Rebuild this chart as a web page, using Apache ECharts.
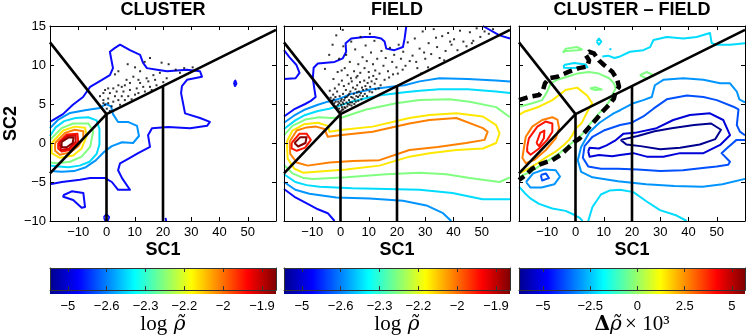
<!DOCTYPE html>
<html><head><meta charset="utf-8">
<script src="https://cdn.jsdelivr.net/npm/echarts@6/dist/echarts.min.js"></script>
<style>html,body{margin:0;padding:0;background:#fff}#c{width:747px;height:336px}</style>
</head><body><div id="c"></div>
<script>
// ---------- axes / labels ----------
const panelTitles = ['CLUSTER', 'FIELD', 'CLUSTER \u2013 FIELD'];
const xRange = [-20, 60];
const yRange = [-10, 15];
const xTicks = [-10, 0, 10, 20, 30, 40, 50];
const yTicks = [-10, -5, 0, 5, 10, 15];
const cbLogLabels = ['\u22125', '\u22122.6', '\u22122.3', '\u22122.2', '\u22122', '\u22121.9'];
const cbLogPos = [0, 1, 2, 3, 4, 5];
const cbLogRange = [-0.46, 5.36];
const cbDeltaTicks = [-5, -2.5, 0, 2.5, 5];
const cbDeltaRange = [-6.27, 5.69];

// ---------- selection wedge lines (same in every panel) ----------
const wedgeUpperLeft = [[-20, 12.9], [0, 3.7]];
const wedgeUpperRight = [[0, 3.7], [60, 14.5]];
const wedgeLowerLeft = [[0, 3.7], [-20, -3.9]];
const wedgeX0 = [[0, 3.7], [0, -10]];
const wedgeX20 = [[20, 7.3], [20, -10]];

// ---------- panel 1 : CLUSTER ----------
const p1Blue = [[-20,2.7],[-15.4,3.7],[-11.9,4.9],[-8.3,5.9],[-5.8,7.2],[-1.6,8.1],[1.2,8.7],[2.3,9.6],[1.6,10.9],[1.2,11.7],[3,12.2],[4.8,12.6],[8.3,11.9],[11.9,11.3],[12.9,10.3],[14.3,9.6],[17.9,9.4],[21.4,9.2],[28.5,9.4],[33.1,9.2],[33.8,8.5],[28.5,8.1],[26.7,7.3],[26.4,6.4],[27.8,3.8],[33.1,3.2],[36.6,2.7],[35.6,2.2],[29.6,1.9],[21.8,2.05],[16.1,1.9],[14.7,1.0],[15.4,-0.5],[11.2,-1.3],[8.3,-1.9],[4.8,-2.6],[4.1,-3.5],[5.5,-4.5],[8.3,-6.0],[4.1,-6.0],[1.9,-5.0],[-0.5,-4.5],[-5.8,-4.5],[-9.4,-4.7],[-15.8,-5.0],[-20,-5.3]];
const p1BlueLoop = [[-15.3,-6.7],[-12.3,-6.2],[-8.2,-6.4],[-7.6,-8.2],[-8.8,-8.3],[-11.8,-7.3],[-15.3,-6.9]];
const p1BlueSpotA = [[-1.0,-9.5],[0,-9.1],[1.0,-9.5],[0.5,-9.95],[-0.5,-9.95]];
const p1BlueSpotB = [[45.1,7.7],[45.6,8.0],[46.0,7.6],[45.5,7.3]];
const p1BlueSpotC = [[20.9,-9.6],[21.3,-9.4],[21.6,-9.8],[21.1,-9.95]];
const p1LightBlue = [[-20,1.9],[-17.2,2.95],[-12.9,3.85],[-7.6,4.2],[-2.3,4.5],[-0.2,5.0],[1.6,4.7],[2.3,3.7],[4.1,2.7],[7.6,2.7],[10.8,2.2],[11.5,0.9],[9.4,0],[5.5,0.1],[1.9,-0.4],[-0.9,-1.15],[-3.7,-2.2],[-7.3,-3.1],[-11.5,-3.6],[-15.8,-3.7],[-20,-3.6]];
const p1Cyan = [[-20,0.9],[-18,2.0],[-15,2.8],[-11,3.2],[-6.5,3.3],[-3.5,2.9],[-2.5,1.8],[-2.5,-0.2],[-3.5,-1.4],[-6,-2.4],[-9.5,-2.9],[-13.5,-3.1],[-17,-3.0],[-20,-2.9]];
const p1Green = [[-20,0.4],[-15.9,1.9],[-11.8,2.5],[-6.4,2.5],[-4.7,1.5],[-5.8,-0.5],[-8.8,-1.75],[-12.9,-2.4],[-17.6,-2.6],[-20,-2.5]];
const p1Yellow = [[-19.4,0],[-15.3,1.6],[-11.2,2.1],[-7.6,1.95],[-7,0.9],[-8.8,-0.7],[-11.8,-1.6],[-16.5,-1.9],[-19.4,-1.3]];
const p1Orange = [[-18.2,0],[-14.7,1.3],[-11.2,1.7],[-8.2,1.5],[-8.2,0.6],[-10,-0.4],[-12.9,-1.2],[-16.5,-1.5],[-18.2,-1.0]];
const p1Red = [[-17.1,0],[-14.1,1.1],[-10.3,1.2],[-10,0.2],[-12.9,-0.9],[-15.9,-1.1],[-17.1,-0.7]];
const p1Crimson = [[-16.6,0.05],[-13.9,0.9],[-10.9,0.95],[-10.9,0.2],[-13.4,-0.75],[-16.2,-0.9]];
const p1DarkRed = [[-15.9,0.15],[-13.5,0.7],[-11.6,0.7],[-12.0,0],[-14.1,-0.55],[-15.9,-0.55]];
const p1Dots = [[15.4,10.9],[10.1,9.7],[11.9,9.2],[4.2,9.2],[3.0,8.8],[18.9,9.0],[17.2,8.1],[14.2,8.3],[11.3,8.1],[8.3,7.7],[6.5,7.4],[5.4,7.2],[4.2,7.4],[2.4,7.0],[0.6,7.0],[-0.5,6.8],[-1.1,6.4],[1.2,6.4],[3.6,6.6],[6.0,6.6],[8.3,6.8],[10.7,7.0],[13.0,7.2],[15.4,7.2],[17.7,7.4],[20.1,7.8],[10.1,6.2],[7.7,6.0],[5.4,6.0],[3.0,6.0],[0.6,5.7],[-1.1,5.5],[-0.5,4.9],[0.6,5.1],[1.8,4.7],[2.4,5.3],[4.2,5.5],[6.5,5.5],[8.9,5.6],[11.3,6.4],[13.6,6.6],[16.0,6.8],[11.9,7.7],[9.5,8.5],[7.1,8.1],[-1.1,5.1],[0.1,4.4],[1.2,4.1],[-2.3,6.0],[4.8,4.9],[14.8,7.9],[16.6,8.7],[21.3,8.3],[24.5,9.4],[27.5,9.6],[22.0,10.1],[19.5,10.3],[13.5,10.4],[7.5,10.1],[30.5,9.7],[26.0,9.0]];

// ---------- panel 2 : FIELD ----------
const p2BlueCorner = [[-20,11.9],[-18.1,11.0],[-15.6,10.0],[-14.5,9.0],[-15.9,8.3],[-20,8.2]];
const p2BlueTop = [[-20,3.4],[-16.5,4.3],[-12.5,5.0],[-10.5,5.4],[-8.8,5.9],[-9.2,6.8],[-9.8,8.3],[-9.5,9.65],[-8,10.2],[-2.1,10.4],[0.8,10.85],[2,11.7],[1.8,12.8],[3.8,13.4],[8.5,13.6],[12,13.6],[14.4,13.4],[15.6,13],[16.2,12.1],[19.1,11.9],[22.1,12.3],[22.7,13.4],[23.3,15]];
const p2BlueRight = [[50.4,15],[56.3,13.8],[60,13.4]];
const p2BlueLow = [[-20,-5.9],[-16.3,-6.9],[-11.6,-7.8],[-8,-8.5],[-4.5,-9.0],[-2.1,-10]];
const p2LightBlueUp = [[-20,2.6],[-16.5,3.5],[-12.5,4.3],[-8,4.9],[-4.5,5.3],[-1,5.6],[3.8,6.3],[10.9,6.9],[17.9,7.2],[22.7,7.4],[28,7.9],[35,8.3],[45,8.2],[55,8.0],[60,7.9]];
const p2LightBlueLow = [[-20,-5.0],[-16,-6.0],[-11,-6.5],[-1.5,-7.0],[10.3,-7.1],[22.1,-7.4],[30.4,-8.0],[36.3,-9.0],[39.2,-10]];
const p2CyanUp = [[-20,1.8],[-16,2.9],[-12.5,3.6],[-8,4.1],[-4,4.4],[-1,4.7],[3.8,5.3],[9.7,5.8],[15.6,6.2],[22.7,6.5],[28,6.7],[35,6.9],[45,6.9],[55,6.6],[60,6.4]];
const p2CyanLow = [[-20,-4.0],[-16,-5.0],[-12,-5.4],[-7.4,-5.6],[4.2,-5.8],[16.3,-5.9],[28,-6.0],[39.6,-6.4],[50.3,-7.2],[60,-7.2]];
const p2GreenUp = [[-20,1.0],[-17,2.2],[-12.5,3.0],[-7.4,3.3],[-3.3,3.2],[0.8,3.3],[9.1,4.3],[19.7,5.1],[28,5.5],[38.6,5.6],[45.7,5.3],[55.1,4.6],[60,3.3]];
const p2GreenLow = [[-20,-2.8],[-17,-3.9],[-13,-4.5],[-9.8,-4.6],[2,-4.4],[16.2,-4.0],[28,-3.8],[37.4,-4.0],[45.7,-4.5],[56.3,-5.0],[60,-4.4]];
const p2Yellow = [[-19,0.2],[-17,1.6],[-13,2.4],[-8,2.6],[-4.5,2.2],[-3.9,1.45],[0.8,1.7],[11.4,2.1],[24.4,3.2],[31.5,3.6],[41,3.8],[50.4,3.4],[55.1,2.3],[56.3,1.25],[55.1,0],[50.4,-0.7],[41,-0.9],[31.5,-1.3],[24.4,-1.75],[13.8,-2.9],[2,-3.4],[-8.6,-3.7],[-13.3,-3.8],[-16.3,-3.3],[-18.7,-2.0]];
const p2Orange = [[-18,0.2],[-15.5,1.6],[-12,2.0],[-8.6,2.1],[-5.7,1.8],[-4.5,0.8],[-0.4,1.0],[11.4,1.45],[24.4,2.5],[31.5,2.95],[41,3.2],[50.4,1.9],[52.1,1.45],[51,0.4],[44.5,0],[34.4,-0.5],[24.4,-0.9],[13.8,-2.2],[4.4,-2.3],[-3.9,-2.5],[-11.6,-2.9],[-15.5,-2.5],[-17.8,-1.4]];
const p2Red = [[-17.3,0],[-14.5,1.2],[-12,1.2],[-10.5,0.4],[-12.5,-0.6],[-15.5,-1.0],[-17.3,-0.7]];
const p2DarkRed = [[-16.3,0],[-14.2,0.75],[-12,0.75],[-12.4,0],[-15,-0.45]];
const p2Dots = [[-3.5,5.8],[-3,5.4],[-2.6,6.2],[-2.2,5.1],[-1.8,5.9],[-1.5,4.7],[-1.2,6.6],[-0.8,5.3],[-0.5,4.4],[-0.3,6.0],[0.2,4.9],[0.4,5.6],[0.6,4.3],[0.9,6.3],[1.1,5.0],[1.4,4.6],[1.6,5.8],[1.9,6.8],[2.1,5.2],[2.4,4.7],[2.7,6.1],[3.0,5.5],[3.2,4.9],[3.5,6.6],[3.8,5.9],[4.1,5.2],[4.4,7.1],[4.7,6.3],[5.0,5.6],[5.3,6.9],[5.6,6.0],[5.9,7.4],[6.2,5.9],[6.5,6.6],[6.9,7.8],[7.2,6.4],[7.6,7.1],[8.0,6.8],[8.4,8.0],[8.8,7.3],[9.2,6.9],[9.6,7.7],[10.1,8.4],[10.5,7.2],[11.0,7.9],[11.6,8.6],[12.1,7.6],[12.7,8.2],[-2.5,8.2],[-1.0,9.1],[0.5,8.0],[1.5,9.6],[2.5,8.7],[3.3,10.4],[4.0,7.9],[4.8,9.2],[5.6,8.4],[6.3,10.1],[7.0,9.0],[7.8,11.0],[8.5,9.6],[9.3,10.5],[10.0,9.1],[10.8,11.6],[11.5,10.1],[12.3,9.3],[13.0,10.8],[13.8,8.9],[14.5,11.8],[15.2,9.9],[16.0,10.9],[16.8,9.2],[17.5,12.2],[18.3,10.4],[19.0,11.3],[19.8,9.7],[20.6,12.6],[21.4,10.8],[22.2,11.7],[23.0,9.9],[23.8,12.9],[14.2,7.4],[15.6,8.1],[17.2,8.4],[18.6,8.8],[20.3,8.9],[22.0,9.4],[24.5,10.5],[2.0,11.3],[5.2,12.0],[8.9,12.5],[12.0,13.1],[-0.5,10.8],[3.8,13.0],[7.1,13.6],[10.4,14.0],[25.5,11.2],[26.3,13.4],[27.2,9.6],[28.0,12.1],[29.1,14.3],[30.0,10.8],[31.2,12.8],[32.1,11.4],[33.0,14.6],[34.2,12.3],[35.1,10.9],[36.0,13.7],[37.2,11.8],[38.1,14.1],[39.3,12.6],[40.2,13.3],[41.4,11.9],[42.3,14.4],[43.5,13.0],[44.6,12.4],[45.8,14.2],[47.0,13.1],[48.2,14.7],[49.5,13.6],[51.0,14.3],[52.5,14.0],[54.0,14.6],[26.8,10.4],[29.6,11.6],[33.8,13.5],[38.8,13.0],[46.5,12.8],[36.7,10.6],[28.5,8.9],[31.0,9.7],[-5.5,9.5],[-4.0,11.3],[-2.8,12.6],[-1.5,13.8],[0.8,14.5],[1.0,12.4],[-2.9,5.4],[-2.4,5.6],[-1.7,5.3],[-1.3,4.5],[-0.9,4.9],[-0.4,5.1],[0.1,5.4],[0.5,4.6],[0.8,5.2],[1.3,5.5],[1.7,4.5],[2.2,5.9],[2.6,5.0],[3.1,6.3],[3.4,5.2],[3.9,4.8],[4.3,5.8],[4.9,5.0],[5.4,5.3],[5.8,6.5],[6.3,5.4],[6.8,6.1],[7.4,5.6],[7.9,6.0],[8.6,6.3],[9.4,6.0],[10.3,6.6],[11.2,6.5],[12.4,6.9],[13.5,7.0],[-0.2,4.0],[0.3,4.1],[1.0,4.3],[-3.8,6.7],[-2.0,7.0],[-0.6,7.5],[1.2,7.3],[2.9,7.6],[3.7,8.3],[6.0,8.6],[0.4,9.3]];

// ---------- panel 3 : CLUSTER - FIELD ----------
const p3ZeroDashed = [[-20,5.5],[-16.5,5.9],[-12.9,6.15],[-11.5,6.8],[-10.8,7.65],[-9.4,8.3],[-6.4,8.5],[-2.3,9.15],[1.2,9.6],[4.2,9.8],[4.8,10.6],[3.6,11.3],[4.8,11.7],[6.5,11.5],[8.3,10.6],[10.1,10],[13,9.15],[14.8,8.1],[15.4,7.2],[14.2,6.6],[13.6,5.7],[11.9,4.9],[9.5,4.0],[7.7,3.2],[5.5,2.3],[3.6,1.5],[1.5,0.6],[-0.5,0.1],[-2.5,-0.6],[-5.2,-1.5],[-8.2,-2.2],[-12.3,-2.7],[-15.3,-3.3],[-17.6,-4.1],[-20,-4.75]];
const p3Red = [[-17.1,-0.5],[-16.5,0.6],[-13.5,2.1],[-10.6,2.75],[-8.2,2.5],[-8.2,1.45],[-10,0.4],[-12.9,-0.7],[-15.9,-1.5],[-17.1,-1.1]];
const p3RedInner = [[-13.8,0.0],[-12.5,1.3],[-11.0,1.6],[-11.2,0.6],[-12.9,-0.4]];
const p3Orange = [[-18.2,-0.5],[-17.6,0.8],[-15.3,2.1],[-11.8,2.95],[-8.2,3.3],[-6.4,3.0],[-5.8,1.9],[-7,0.6],[-10.5,-0.9],[-14.7,-2.2],[-17.6,-2.6],[-18.8,-1.9]];
const p3Yellow = [[-20,3.6],[-18.2,4.0],[-16.5,4.2],[-12.9,4.65],[-8.2,5.5],[-5.8,6.15],[-3.5,6.8],[0.6,7.1],[4.2,6.05],[5.9,5.1],[4.8,4.45],[3.6,3.6],[2.4,2.7],[1.8,2.4],[0.1,1.9],[-1.1,1.0],[-2.3,0.4],[-4.1,-0.25],[-7,-1.1],[-10,-1.75],[-13.5,-2.6],[-16.5,-3.25],[-18.8,-3.7],[-20,-3.9]];
const p3Green = [[-20,4.65],[-15.3,5.1],[-11.8,5.5],[-10,6.6],[-8.8,7.65],[-6.5,8.1],[-2.9,8.5],[0.6,8.9],[4.8,9.1],[8.3,8.9],[11.9,8.3],[13.6,7.65],[14.2,7.0],[13,6.15],[11.9,5.3],[10.1,4.45],[8.3,3.8],[6.5,3.0],[5,2.4],[3,1.4],[1,0.6],[-1,0.1],[-3,-0.5],[-6,-1.4],[-9,-2.1],[-13,-3.0],[-16,-3.7],[-20,-4.35]];
const p3GreenTop = [[-4.5,11.6],[-3.4,12.1],[0.6,12.3],[2.3,12.0],[0.6,11.9],[-3.4,11.8]];
const p3GreenDash = [[5.1,7.0],[7,7.15],[9.3,6.85],[7,6.8]];
const p3GreenDiamond = [[22.8,8.7],[25.2,9.1],[27.6,8.7],[25.2,8.25]];
const p3CyanLoop = [[-4.1,10],[-0.5,10.25],[3.6,10.05],[4.2,9.7],[-0.5,9.6],[-4.1,9.65]];
const p3CyanTop = [[9.5,11.1],[11.5,11.2],[13.8,10.9],[15.8,11.1],[19.3,11.7],[24,11.9],[26.4,12.3],[27.6,13.2],[32.3,13.6],[38.2,13.4],[42.9,13.6],[47.6,14.1],[48.2,12.8],[50,12.6],[54.7,12.6],[60,12.8]];
const p3CyanRing = [[7.5,13.0],[8.3,13.4],[9.1,13.0],[8.3,12.6]];
const p3CyanSpot = [[12.2,11.9],[12.5,12.15],[12.8,11.9],[12.5,11.7]];
const p3CyanLowLeft = [[-20,-5.6],[-18,-6.4],[-16,-7.1],[-12.9,-7.8],[-8.2,-8.4],[-3.5,-8.7],[-0.5,-9.2],[1.5,-9.6],[2.5,-10]];
const p3CyanLowRight = [[4.5,-10],[6,-8.2],[9,-6.6],[12,-6.1],[15.8,-6],[20.5,-6.3],[25.2,-7.5],[29.9,-8.6],[35.8,-9.3],[39.4,-10]];
const p3LightBlueLeft = [[-17.5,-5.0],[-15,-3.9],[-11,-3.4],[-7,-3.5],[-5.5,-4.3],[-7.5,-5.3],[-12,-5.7],[-16,-5.7]];
const p3LightBlueRight = [[60,5.2],[58,5.6],[57.1,6.6],[54.7,7.65],[51.2,7.65],[45.3,8.1],[38.2,8.3],[31.1,8.1],[28.1,7.4],[27,5.9],[24,5.5],[20.5,5.1],[15.8,4.2],[13.5,3.8],[11,3.2],[8.5,2.6],[5,1.4],[2,-0.5],[0.8,-2.2],[2,-3.7],[6,-4.4],[15,-4.9],[25,-5.3],[35,-5.5],[45,-5.6],[52,-5.3],[60,-4.6]];
const p3MidBlue = [[60,1.0],[58.2,1.45],[57.1,2.3],[57.7,4.3],[55.9,4.65],[50,5.5],[45.3,5.9],[39.4,6.1],[32.3,5.6],[27.6,4.4],[24,3.4],[19.9,2.6],[15.8,2.3],[10,1.6],[6,0.8],[3.2,-0.4],[2.6,-1.9],[4.5,-3.0],[9,-3.3],[15,-3.3],[22,-3.4],[30,-3.6],[38,-3.5],[45,-3.2],[50,-3.0],[54,-2.8],[54.7,-2.4],[51.7,-1.3],[53.5,-0.7],[57,0.4],[60,0.4]];
const p3MidBlueSmall = [[-12.3,-4.1],[-10.5,-3.9],[-9.4,-4.5],[-11.8,-4.8]];
const p3Blue = [[4.5,-1.1],[5,-0.6],[8.3,-0.7],[11,-0.3],[14,0.3],[17,1.2],[21,1.3],[28.7,1.9],[34.6,2.95],[40.5,3.6],[47.6,3.8],[52.3,2.95],[54.7,1.0],[51.2,-0.25],[45.3,-1.3],[37,-1.3],[31.1,-1.75],[25.2,-1.75],[20.5,-1.3],[15.8,-1.55],[13,-1.7],[8.3,-1.55],[5,-1.75]];
const p3Navy = [[16,0.4],[22,0.9],[28,1.5],[34,1.9],[42,2.3],[48,2.5],[51.5,1.7],[49.5,0.5],[44,-0.2],[37,-0.6],[30,-0.8],[23,-0.4],[18,-0.2]];

// ---------- styling ----------
const FONT = "'Liberation Sans', Arial, Helvetica, sans-serif";
const COL = {navy:'#000090', blue:'#0a0aff', dblue:'#0000d8', mblue:'#0050ff', lblue:'#0094ff', cyan:'#00dcff',
  green:'#80ff80', yellow:'#ffe800', orange:'#ff8000', red:'#ff1400', crimson:'#d80000', dred:'#820000'};
const GL = [50, 284, 519];
const PW = 226, PT = 26, PH = 195;
const CBT = 268, CBH = 26;
const minus = v => (v < 0 ? '\u2212' + Math.abs(v) : String(v));

const grids = [];
GL.forEach(l => grids.push({left:l, top:PT, width:PW, height:PH}));
GL.forEach(l => grids.push({left:l, top:CBT, width:PW, height:CBH}));

const xAxes = [], yAxes = [];
const axLine = {show:true, onZero:false, lineStyle:{color:'#000', width:1}};
for (let i = 0; i < 3; i++) {
  xAxes.push({gridIndex:i, type:'value', min:xRange[0], max:xRange[1], interval:10, position:'bottom', z:10,
    axisLine:axLine, splitLine:{show:false},
    axisTick:{show:true, inside:true, length:4, customValues:xTicks, lineStyle:{color:'#000'}},
    axisLabel:{show:true, customValues:xTicks, formatter:v => (v <= -20 || v >= 60 ? '' : minus(v)), color:'#000', fontSize:13, fontFamily:FONT, margin:5},
    name:'SC1', nameLocation:'middle', nameGap:20, nameMoveOverlap:false,
    nameTextStyle:{fontSize:18, fontWeight:'bold', color:'#000', fontFamily:FONT, verticalAlign:'top', lineHeight:18}});
}
for (let i = 0; i < 3; i++) {
  xAxes.push({gridIndex:i, type:'value', min:xRange[0], max:xRange[1], interval:10, position:'top', z:10,
    axisLine:axLine, splitLine:{show:false},
    axisTick:{show:true, inside:true, length:4, customValues:xTicks, lineStyle:{color:'#000'}},
    axisLabel:{show:false}});
}
const cbDefs = [
  {range:cbLogRange, ticks:cbLogPos, fmt:v => cbLogLabels[Math.round(v)] || '', name:'{a|log}  {b|\u03C1\u0303}'},
  {range:cbLogRange, ticks:cbLogPos, fmt:v => cbLogLabels[Math.round(v)] || '', name:'{a|log}  {b|\u03C1\u0303}'},
  {range:cbDeltaRange, ticks:cbDeltaTicks, fmt:minus, name:'{d|\u0394}{b|\u03C1\u0303} {a|\u00D7 10\u00B3}'}
];
const nameRich = {
  a:{fontFamily:"'Liberation Serif','DejaVu Serif',serif", fontSize:21, color:'#000'},
  b:{fontFamily:"'DejaVu Serif','Liberation Serif',serif", fontStyle:'italic', fontSize:20, color:'#000'},
  d:{fontFamily:"'DejaVu Serif','Liberation Serif',serif", fontWeight:'bold', fontSize:20, color:'#000'}
};
for (let i = 0; i < 3; i++) {
  const c = cbDefs[i];
  xAxes.push({gridIndex:3+i, type:'value', min:c.range[0], max:c.range[1], position:'bottom', z:10,
    axisLine:{show:true, onZero:false, lineStyle:{color:'#333', width:1}}, splitLine:{show:false},
    axisTick:{show:true, inside:true, length:4, customValues:c.ticks, lineStyle:{color:'#333'}},
    axisLabel:{show:true, customValues:c.ticks, formatter:c.fmt, color:'#000', fontSize:13, fontFamily:FONT, margin:10},
    name:c.name, nameLocation:'middle', nameGap:20, nameTextStyle:{rich:nameRich}});
}
for (let i = 0; i < 3; i++) {
  const c = cbDefs[i];
  xAxes.push({gridIndex:3+i, type:'value', min:c.range[0], max:c.range[1], position:'top', z:10,
    axisLine:{show:true, onZero:false, lineStyle:{color:'#333', width:1}}, splitLine:{show:false},
    axisTick:{show:true, inside:true, length:4, customValues:c.ticks, lineStyle:{color:'#333'}},
    axisLabel:{show:false}});
}
for (let i = 0; i < 3; i++) {
  yAxes.push({gridIndex:i, type:'value', min:yRange[0], max:yRange[1], interval:5, position:'left', z:10,
    axisLine:axLine, splitLine:{show:false},
    axisTick:{show:true, inside:true, length:4, lineStyle:{color:'#000'}},
    axisLabel:{show:i === 0, formatter:minus, color:'#000', fontSize:13, fontFamily:FONT, margin:4},
    name:i === 0 ? 'SC2' : '', nameLocation:'middle', nameGap:28, nameRotate:90,
    nameTextStyle:{fontSize:18, fontWeight:'bold', color:'#000', fontFamily:FONT}});
}
for (let i = 0; i < 3; i++) {
  yAxes.push({gridIndex:i, type:'value', min:yRange[0], max:yRange[1], interval:5, position:'right', z:10,
    axisLine:axLine, splitLine:{show:false},
    axisTick:{show:true, inside:true, length:4, lineStyle:{color:'#000'}}, axisLabel:{show:false}});
}
for (let i = 0; i < 3; i++) {
  yAxes.push({gridIndex:3+i, type:'value', min:0, max:1, position:'left', z:10,
    axisLine:{show:true, onZero:false, lineStyle:{color:'#333'}}, axisTick:{show:false}, axisLabel:{show:false}, splitLine:{show:false}});
}
for (let i = 0; i < 3; i++) {
  yAxes.push({gridIndex:3+i, type:'value', min:0, max:1, position:'right', z:10,
    axisLine:{show:true, onZero:false, lineStyle:{color:'#333'}}, axisTick:{show:false}, axisLabel:{show:false}, splitLine:{show:false}});
}

// ---------- series ----------
const series = [];
function line(p, pts, color, width, closed, dash, z) {
  series.push({type:'line', xAxisIndex:p, yAxisIndex:p, data: closed ? pts.concat([pts[0]]) : pts,
    showSymbol:false, symbol:'none', silent:true, animation:false, smooth:false, z:z || 2,
    lineStyle:{color:color, width:width, type:dash || 'solid', join:'round'}});
}
function dots(p, pts) {
  series.push({type:'scatter', xAxisIndex:p, yAxisIndex:p, data:pts, symbol:'rect', symbolSize:2,
    itemStyle:{color:'#000'}, silent:true, animation:false, z:3});
}
const CW = 2;
// panel 1
line(0, p1Blue, COL.blue, CW, false);
line(0, p1BlueLoop, COL.blue, CW, true);
line(0, p1BlueSpotA, COL.blue, 1.6, true);
line(0, p1BlueSpotB, COL.blue, CW, true);
line(0, p1BlueSpotC, COL.blue, CW, true);
line(0, p1LightBlue, COL.lblue, CW, false);
line(0, p1Cyan, COL.cyan, CW, false);
line(0, p1Green, COL.green, CW, false);
line(0, p1Yellow, COL.yellow, CW, true);
line(0, p1Orange, COL.orange, CW, true);
line(0, p1Red, COL.red, CW, true);
line(0, p1Crimson, COL.crimson, CW, true);
line(0, p1DarkRed, COL.dred, CW, true);
dots(0, p1Dots);
// panel 2
line(1, p2BlueCorner, COL.blue, CW, false);
line(1, p2BlueTop, COL.blue, CW, false);
line(1, p2BlueRight, COL.blue, CW, false);
line(1, p2BlueLow, COL.blue, CW, false);
line(1, p2LightBlueUp, COL.lblue, CW, false);
line(1, p2LightBlueLow, COL.lblue, CW, false);
line(1, p2CyanUp, COL.cyan, CW, false);
line(1, p2CyanLow, COL.cyan, CW, false);
line(1, p2GreenUp, COL.green, CW, false);
line(1, p2GreenLow, COL.green, CW, false);
line(1, p2Yellow, COL.yellow, CW, true);
line(1, p2Orange, COL.orange, CW, true);
line(1, p2Red, COL.red, CW, true);
line(1, p2DarkRed, COL.dred, CW, true);
dots(1, p2Dots);
// panel 3
line(2, p3Navy, COL.navy, CW, true);
line(2, p3Blue, COL.dblue, CW, true);
line(2, p3MidBlue, COL.mblue, CW, false);
line(2, p3MidBlueSmall, COL.mblue, CW, true);
line(2, p3LightBlueRight, COL.lblue, CW, false);
line(2, p3LightBlueLeft, COL.lblue, CW, true);
line(2, p3CyanTop, COL.cyan, CW, false);
line(2, p3CyanLoop, COL.cyan, CW, true);
line(2, p3CyanRing, COL.cyan, CW, true);
line(2, p3CyanSpot, COL.cyan, CW, true);
line(2, p3CyanLowLeft, COL.cyan, CW, false);
line(2, p3CyanLowRight, COL.cyan, CW, false);
line(2, p3Green, COL.green, CW, false);
line(2, p3GreenTop, COL.green, CW, true);
line(2, p3GreenDash, COL.green, CW, true);
line(2, p3GreenDiamond, COL.green, CW, true);
line(2, p3Yellow, COL.yellow, CW, false);
line(2, p3Orange, COL.orange, CW, true);
line(2, p3Red, COL.red, CW, true);
line(2, p3RedInner, COL.red, CW, true);
// wedge lines on every panel
for (let p = 0; p < 3; p++) {
  [wedgeUpperLeft, wedgeUpperRight, wedgeLowerLeft, wedgeX0, wedgeX20].forEach(w => line(p, w, '#000', 2.6, false, 'solid', 4));
}
line(2, p3ZeroDashed, '#000', 4.5, false, [9, 5], 5);

// ---------- colour bars & titles ----------
const jetStops = [
  {offset:0, color:'#00008f'}, {offset:0.125, color:'#0000ff'}, {offset:0.375, color:'#00ffff'},
  {offset:0.625, color:'#ffff00'}, {offset:0.875, color:'#ff0000'}, {offset:1, color:'#800000'}];
const graphic = [];
GL.forEach(l => graphic.push({type:'rect', z:-1, silent:true,
  shape:{x:l, y:CBT, width:PW, height:CBH},
  style:{fill:new echarts.graphic.LinearGradient(0, 0, 1, 0, jetStops)}}));
panelTitles.forEach((t, i) => graphic.push({type:'text', silent:true, x:GL[i] + PW / 2, y:10,
  style:{text:t, textAlign:'center', textVerticalAlign:'middle', fill:'#000', font:"bold 18px " + FONT}}));

const chart = echarts.init(document.getElementById('c'), null, {renderer:'canvas'});
chart.setOption({animation:false, backgroundColor:'#fff', grid:grids, xAxis:xAxes, yAxis:yAxes, series:series, graphic:graphic});
</script></body></html>
